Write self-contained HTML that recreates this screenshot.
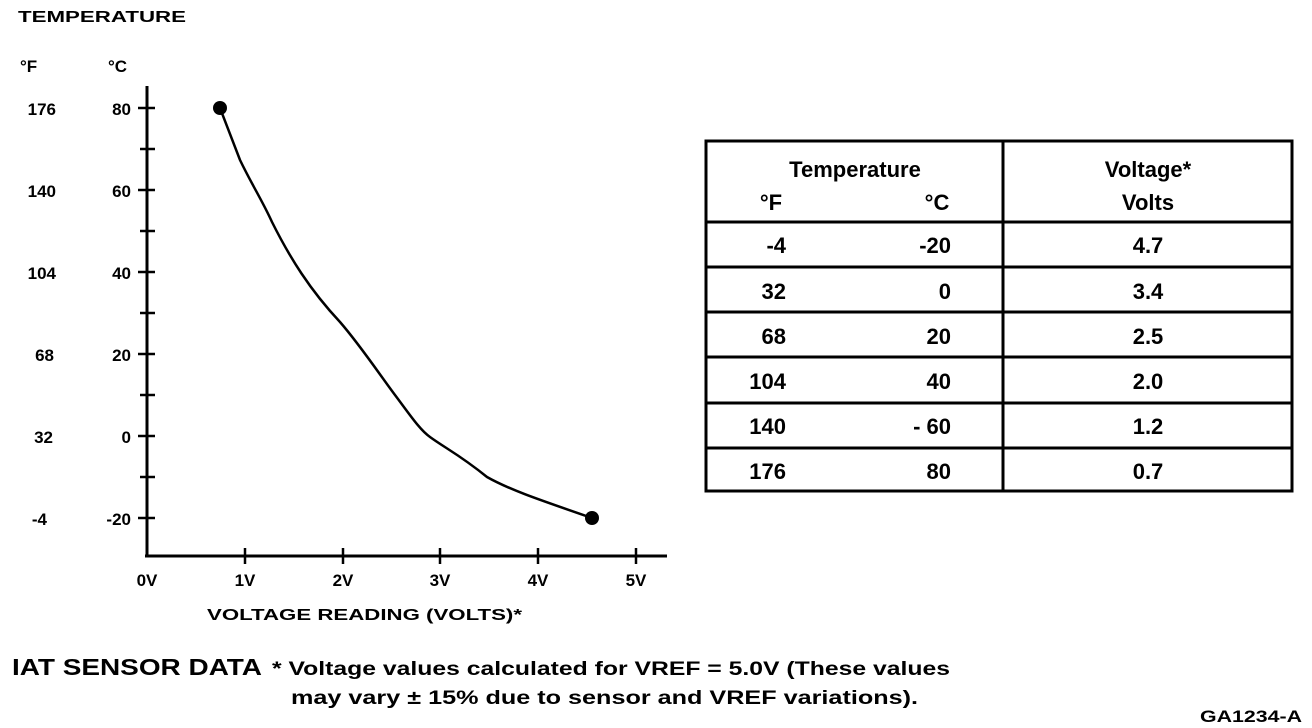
<!DOCTYPE html>
<html><head><style>html,body{margin:0;padding:0;background:#fff}svg{display:block}</style></head>
<body>
<svg width="1312" height="728" viewBox="0 0 1312 728" xmlns="http://www.w3.org/2000/svg" font-family="Liberation Sans, Arial, sans-serif" font-weight="bold" fill="#000">
<text x="18" y="22" font-size="16" textLength="168" lengthAdjust="spacingAndGlyphs">TEMPERATURE</text>
<text x="20" y="72" font-size="17">°F</text>
<text x="108" y="72" font-size="17">°C</text>
<g font-size="17" text-anchor="end">
<text x="56" y="115">176</text><text x="131" y="115">80</text>
<text x="56" y="197">140</text><text x="131" y="197">60</text>
<text x="56" y="279">104</text><text x="131" y="279">40</text>
<text x="54" y="361">68</text><text x="131" y="361">20</text>
<text x="53" y="443">32</text><text x="131" y="443">0</text>
<text x="47" y="525">-4</text><text x="131" y="525">-20</text>
</g>
<g stroke="#000" stroke-width="3" fill="none">
<line x1="147" y1="86" x2="147" y2="557"/>
<line x1="145" y1="556" x2="667" y2="556"/>
<g stroke-width="2.5">
<line x1="138" y1="108" x2="155" y2="108"/><line x1="138" y1="190" x2="155" y2="190"/>
<line x1="138" y1="272" x2="155" y2="272"/><line x1="138" y1="354" x2="155" y2="354"/>
<line x1="138" y1="436" x2="155" y2="436"/><line x1="138" y1="518" x2="155" y2="518"/>
<line x1="140" y1="149" x2="155" y2="149"/><line x1="140" y1="231" x2="155" y2="231"/>
<line x1="140" y1="313" x2="155" y2="313"/><line x1="140" y1="395" x2="155" y2="395"/>
<line x1="140" y1="477" x2="155" y2="477"/>
<line x1="245" y1="548" x2="245" y2="564"/><line x1="343" y1="548" x2="343" y2="564"/>
<line x1="440" y1="548" x2="440" y2="564"/><line x1="538" y1="548" x2="538" y2="564"/>
<line x1="636" y1="548" x2="636" y2="564"/>
</g>
<path stroke-width="2.5" d="M220,108 L240,160 C252,185 262,200 272,222 C290,258 310,290 340,322 C360,345 380,375 395,395 C410,415 420,430 430,437 C445,448 460,455 487,477 C510,490 540,500 592,518"/>
</g>
<circle cx="220" cy="108" r="7"/><circle cx="592" cy="518" r="7"/>
<g font-size="17" text-anchor="middle">
<text x="147" y="586">0V</text><text x="245" y="586">1V</text><text x="343" y="586">2V</text>
<text x="440" y="586">3V</text><text x="538" y="586">4V</text><text x="636" y="586">5V</text>
</g>
<text x="207" y="620" font-size="16" textLength="315" lengthAdjust="spacingAndGlyphs">VOLTAGE READING (VOLTS)*</text>
<g stroke="#000" stroke-width="3" fill="none">
<rect x="706" y="141" width="586" height="350"/>
<line x1="1003" y1="141" x2="1003" y2="491"/>
<line x1="706" y1="222" x2="1292" y2="222"/>
<line x1="706" y1="267" x2="1292" y2="267"/>
<line x1="706" y1="312" x2="1292" y2="312"/>
<line x1="706" y1="357" x2="1292" y2="357"/>
<line x1="706" y1="403" x2="1292" y2="403"/>
<line x1="706" y1="448" x2="1292" y2="448"/>
</g>
<g font-size="22">
<text x="855" y="177" text-anchor="middle">Temperature</text>
<text x="771" y="210" text-anchor="middle">°F</text>
<text x="937" y="210" text-anchor="middle">°C</text>
<text x="1148" y="177" text-anchor="middle">Voltage*</text>
<text x="1148" y="210" text-anchor="middle">Volts</text>
</g>
<g font-size="22">
<g text-anchor="end">
<text x="786" y="253">-4</text><text x="951" y="253">-20</text>
<text x="786" y="299">32</text><text x="951" y="299">0</text>
<text x="786" y="344">68</text><text x="951" y="344">20</text>
<text x="786" y="389">104</text><text x="951" y="389">40</text>
<text x="786" y="434">140</text><text x="951" y="434">- 60</text>
<text x="786" y="479">176</text><text x="951" y="479">80</text>
</g>
<g text-anchor="middle">
<text x="1148" y="253">4.7</text><text x="1148" y="299">3.4</text><text x="1148" y="344">2.5</text>
<text x="1148" y="389">2.0</text><text x="1148" y="434">1.2</text><text x="1148" y="479">0.7</text>
</g>
</g>
<text x="12" y="675" font-size="23" textLength="250" lengthAdjust="spacingAndGlyphs">IAT SENSOR DATA</text>
<text x="272" y="675" font-size="19" textLength="678" lengthAdjust="spacingAndGlyphs">* Voltage values calculated for VREF = 5.0V (These values</text>
<text x="291" y="704" font-size="19" textLength="627" lengthAdjust="spacingAndGlyphs">may vary ± 15% due to sensor and VREF variations).</text>
<text x="1200" y="722" font-size="17" textLength="102" lengthAdjust="spacingAndGlyphs">GA1234-A</text>
</svg>
</body></html>
